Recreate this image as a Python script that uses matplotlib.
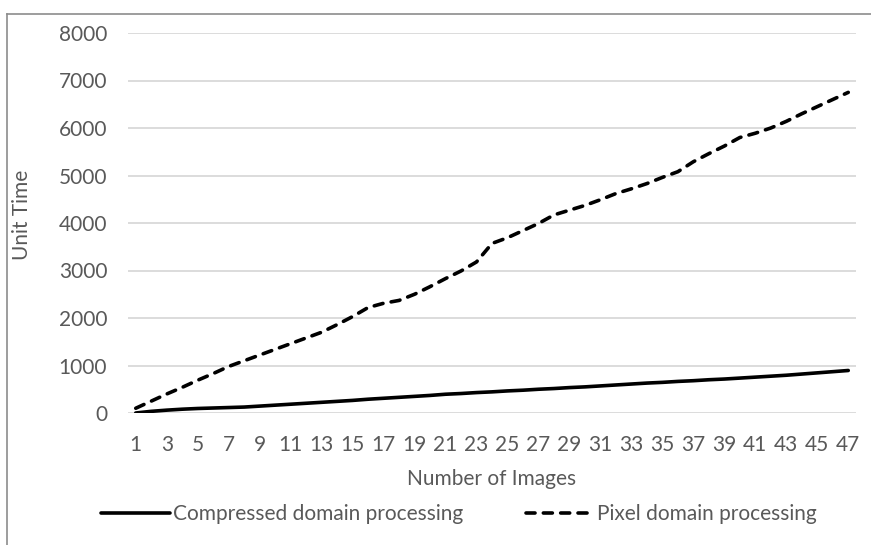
import matplotlib
matplotlib.use("Agg")
import matplotlib.pyplot as plt
from matplotlib.lines import Line2D

# Werte
images = list(range(1, 48))
compressed = [0, 35, 60, 80, 95, 105, 115, 125, 145, 165, 185, 205, 225, 245, 265, 290,
              310, 330, 350, 370, 395, 410, 430, 445, 465, 480, 500, 515, 535, 550, 570,
              590, 610, 630, 645, 665, 680, 700, 715, 735, 755, 775, 795, 820, 845, 870, 895]
pixel = [100, 250, 400, 540, 690, 830, 980, 1100, 1220, 1340, 1460, 1580, 1700, 1860,
         2030, 2220, 2310, 2370, 2500, 2660, 2830, 2990, 3180, 3570, 3690, 3840, 3990,
         4170, 4270, 4370, 4490, 4620, 4720, 4830, 4960, 5080, 5290, 5460, 5620, 5800,
         5890, 6000, 6140, 6300, 6450, 6600, 6750]
y_ticks = [0, 1000, 2000, 3000, 4000, 5000, 6000, 7000, 8000]

grey = '#595959'
fs = 15
plt.rcParams['font.family'] = ['Lato', 'DejaVu Sans']
plt.rcParams['font.size'] = fs

W, H = 871, 545
fig = plt.figure(figsize=(W / 100, H / 100), dpi=100)
ax = fig.add_axes([128 / W, 1 - 413 / H, (856 - 128) / W, (413 - 33) / H])

l1, = ax.plot(images, compressed, color='black', lw=2.6, solid_capstyle='round',
              label='Compressed domain processing')
l2, = ax.plot(images, pixel, color='black', lw=2.6, linestyle=(0, (2.5, 2.3)),
              dash_capstyle='round', label='Pixel domain processing')

ax.set_xlim(0.5, 47.5)
ax.set_ylim(0, 8000)
ax.set_yticks(y_ticks)
ax.set_xticks(images[::2])
ax.grid(axis='y', color='#d9d9d9', lw=1.3)
ax.set_axisbelow(True)
for s in ax.spines.values():
    s.set_visible(False)
ax.tick_params(length=0, colors=grey, labelsize=fs)
ax.tick_params(axis='y', pad=15)
ax.tick_params(axis='x', pad=16)

ax.set_xlabel('Number of Images', color=grey, fontsize=fs, labelpad=10)
fig.text(22 / W, 1 - 215 / H, 'Unit Time', rotation=90, color=grey, fontsize=fs,
         ha='center', va='center')

leg = fig.legend(handles=[l1, l2], loc='center', bbox_to_anchor=(0.527, 1 - 514 / H),
                 ncol=2, frameon=False, handlelength=3.3, handletextpad=0.15,
                 columnspacing=3.0, fontsize=fs)
for t in leg.get_texts():
    t.set_color(grey)

# Rahmen oben und links
fig.add_artist(Line2D([7 / W, 1], [1 - 14 / H, 1 - 14 / H], color='#8c8c8c', lw=1.2))
fig.add_artist(Line2D([7 / W, 7 / W], [0, 1 - 14 / H], color='#8c8c8c', lw=1.2))

fig.savefig('out.png', dpi=100)
